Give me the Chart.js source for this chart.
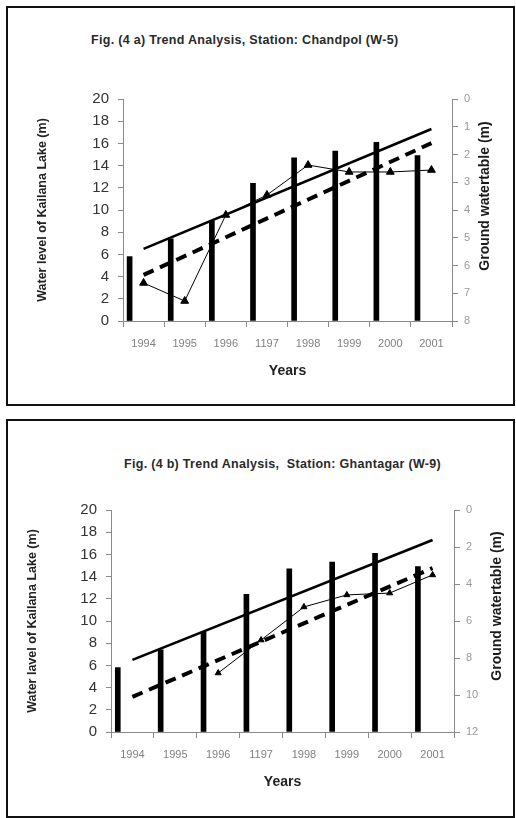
<!DOCTYPE html>
<html>
<head>
<meta charset="utf-8">
<script src="https://cdn.jsdelivr.net/npm/chart.js@4.4.1/dist/chart.umd.min.js"></script>
<style>
  html, body { margin: 0; padding: 0; background: #fff; }
  body { width: 516px; height: 818px; position: relative; overflow: hidden; font-family: "Liberation Sans", Arial, sans-serif; }
  .frame { position: absolute; border: 2px solid #111; box-sizing: border-box; pointer-events: none; }
  canvas { position: absolute; left: 0; }
  .fig-title { position: absolute; font-size: 12.5px; font-weight: bold; color: #2a2a2a; white-space: pre; line-height: 14px; letter-spacing: 0.3px; }
</style>
</head>
<body>
<div class="frame" style="left:6px;top:6px;width:509px;height:400px"></div>
<div class="frame" style="left:6px;top:419px;width:509px;height:399px"></div>
<div class="fig-title" style="left:91px;top:33px">Fig. (4 a) Trend Analysis, Station: Chandpol (W-5)</div>
<div class="fig-title" style="left:124px;top:457px">Fig. (4 b) Trend Analysis,  Station: Ghantagar (W-9)</div>
<canvas id="chartA" width="516" height="410" style="top:0"></canvas>
<canvas id="chartB" width="516" height="408" style="top:410px"></canvas>
<script>
// years as printed on the original figure (incl. the "1197" typo)
const years = ['1994', '1995', '1996', '1197', '1998', '1999', '2000', '2001']

// Kailana lake level (m), left axis - same in both figures
const lakeLevel = [5.8, 7.4, 9.0, 12.4, 14.7, 15.3, 16.1, 14.9]
const lakeTrend = [6.5, null, null, null, null, null, null, 17.3]

// ground water table depth (m), right axis
const chandpolTable = [6.63, 7.28, 4.18, 3.46, 2.38, 2.63, 2.63, 2.56]
const chandpolTrend = [6.34, null, null, null, null, null, null, 1.59]
const ghantagarTable = [null, null, 8.81, 7.03, 5.24, 4.59, 4.49, 3.51]
const ghantagarTrend = [10.1, null, null, null, null, null, null, 3.14]

const FONT = '"Liberation Sans", Arial, sans-serif'
const AXIS_GREY = '#8a8a8a'
const BAR_SHIFT = 0.1 // bars sit just right of each category boundary

// right axis title, written bottom-to-top like the left one
const sideTitle = {
  id: 'sideTitle',
  afterDraw (chart, args, opts) {
    const ctx = chart.ctx
    ctx.save()
    ctx.translate(opts.x, opts.y)
    ctx.rotate(-Math.PI / 2)
    ctx.font = 'bold 14px ' + FONT
    ctx.fillStyle = '#1a1a1a'
    ctx.textAlign = 'center'
    ctx.textBaseline = 'middle'
    ctx.fillText(opts.text, 0, 0)
    ctx.restore()
  }
}

function trendChart (id, o) {
  const canvas = document.getElementById(id)
  const ctx = canvas.getContext('2d')
  return new Chart(ctx, {
    type: 'bar',
    data: {
      labels: years,
      datasets: [
        {
          type: 'line',
          label: 'Ground water table',
          data: o.table,
          yAxisID: 'y1',
          borderColor: '#000',
          borderWidth: 1,
          pointStyle: 'triangle',
          pointRadius: o.marker,
          pointBackgroundColor: '#000',
          pointBorderColor: '#000',
          order: 0
        },
        {
          type: 'line',
          label: 'Lake trend',
          data: lakeTrend,
          yAxisID: 'y',
          borderColor: '#000',
          borderWidth: 2.6,
          pointRadius: 0,
          spanGaps: true,
          order: 1
        },
        {
          type: 'line',
          label: 'Water table trend',
          data: o.trend,
          yAxisID: 'y1',
          borderColor: '#000',
          borderWidth: 4,
          borderDash: [11, 7],
          pointRadius: 0,
          spanGaps: true,
          order: 2
        },
        {
          type: 'bar',
          label: 'Kailana Lake',
          data: lakeLevel.map((v, i) => ({ x: i + BAR_SHIFT, y: v })),
          xAxisID: 'xb',
          yAxisID: 'y',
          backgroundColor: '#000',
          barThickness: 5,
          order: 3
        }
      ]
    },
    options: {
      responsive: false,
      animation: false,
      layout: { padding: { top: o.top, left: 0, right: 0, bottom: 0 } },
      plugins: {
        legend: { display: false },
        tooltip: { enabled: false },
        sideTitle: { text: 'Ground watertable (m)', x: o.rightTitleX, y: o.rightTitleY }
      },
      scales: {
        x: {
          type: 'category',
          offset: true,
          grid: { offset: true, drawOnChartArea: false, color: AXIS_GREY, tickLength: 6 },
          border: { color: AXIS_GREY },
          ticks: { color: '#808080', font: { family: FONT, size: 11 }, padding: 10, maxRotation: 0 },
          title: {
            display: true,
            text: 'Years',
            color: '#222',
            font: { family: FONT, size: 14, weight: 'bold' },
            padding: { top: 0, bottom: o.xTitlePad }
          },
          afterFit: (s) => { s.height = canvas.height - o.bottom }
        },
        xb: {
          type: 'linear',
          display: false,
          offset: false,
          grid: { offset: false },
          min: 0,
          max: years.length
        },
        y: {
          position: 'left',
          min: 0,
          max: 20,
          ticks: { stepSize: 2, color: '#333', font: { family: FONT, size: 15 }, padding: 9 },
          grid: { drawOnChartArea: false, color: AXIS_GREY, tickLength: 5 },
          border: { color: AXIS_GREY },
          title: {
            display: true,
            text: o.leftTitle,
            color: '#222',
            font: { family: FONT, size: 12.5, weight: 'bold' },
            padding: { top: o.yTitlePad, bottom: 0 }
          },
          afterFit: (s) => { s.width = o.left }
        },
        y1: {
          position: 'right',
          reverse: true,
          min: 0,
          max: o.tableMax,
          ticks: { stepSize: o.tableStep, color: '#999', font: { family: FONT, size: 11 }, padding: 6 },
          grid: { drawOnChartArea: false, color: AXIS_GREY, tickLength: 6 },
          border: { color: AXIS_GREY },
          afterFit: (s) => { s.width = canvas.width - o.right }
        }
      }
    },
    plugins: [sideTitle]
  })
}

trendChart('chartA', {
  table: chandpolTable,
  trend: chandpolTrend,
  tableMax: 8,
  tableStep: 1,
  marker: 4.5,
  leftTitle: 'Water level of Kailana Lake (m)',
  left: 123,
  right: 452,
  top: 99,
  bottom: 321,
  yTitlePad: 35,
  xTitlePad: 30,
  rightTitleX: 485,
  rightTitleY: 196
})

trendChart('chartB', {
  table: ghantagarTable,
  trend: ghantagarTrend,
  tableMax: 12,
  tableStep: 2,
  marker: 3.5,
  leftTitle: 'Water lavel of Kailana Lake (m)',
  left: 111,
  right: 454,
  top: 100,
  bottom: 322,
  yTitlePad: 25,
  xTitlePad: 27,
  rightTitleX: 497,
  rightTitleY: 196
})
</script>
</body>
</html>
